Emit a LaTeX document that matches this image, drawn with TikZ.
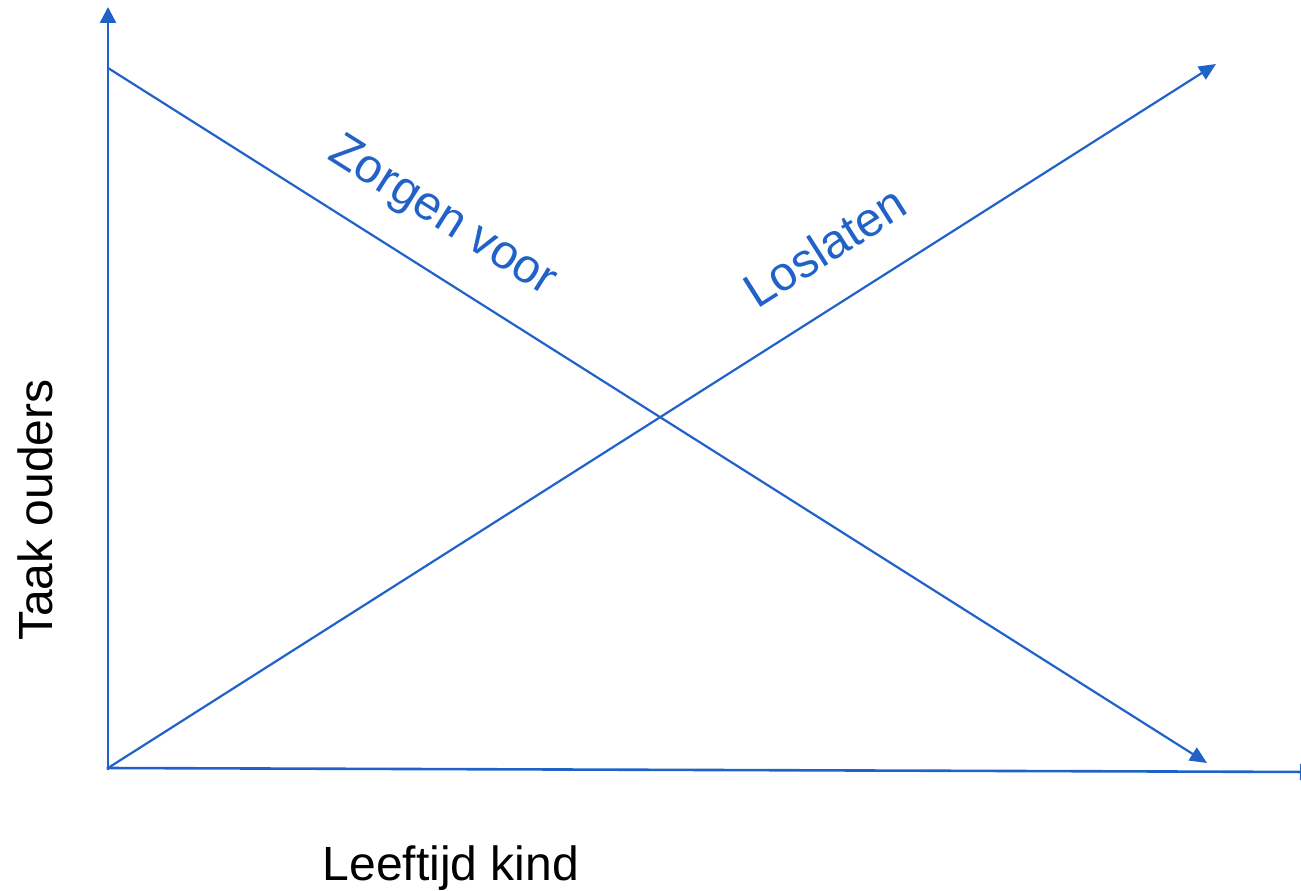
\documentclass[tikz,border=0pt]{standalone}
\usepackage{fontspec}
\setmainfont{Liberation Sans}
\usetikzlibrary{arrows.meta}
\definecolor{lineblue}{RGB}{32,98,200}
\tikzset{
  axisline/.style={draw=lineblue, line width=2.6pt, -{Triangle[length=16pt,width=16pt]}},
  diagline/.style={draw=lineblue, line width=2.2pt, -{Triangle[length=17pt,width=15pt]}},
  bluelabel/.style={text=lineblue, font=\fontsize{48}{57}\selectfont, inner sep=0pt},
  blacklabel/.style={text=black, font=\fontsize{48}{57}\selectfont, inner sep=0pt}
}
\begin{document}
\begin{tikzpicture}[x=1pt,y=-1pt]
\useasboundingbox (0,0) rectangle (1301,891);
\coordinate (origin) at (108,768);
\coordinate (ytop) at (108,7);
\coordinate (xend) at (1316,772);
\coordinate (zstart) at (108,68);
\coordinate (zend) at (1207,763);
\coordinate (lend) at (1216,64);
\draw[axisline] ([yshift=-2pt]origin) -- (ytop);
\draw[axisline] ([xshift=-1.3pt]origin) -- (xend);
\draw[diagline] (zstart) -- (zend);
\draw[diagline] (origin) -- (lend);
\node[bluelabel, anchor=base west, rotate=-32.3] (zorgen) at (326,158) {Zorgen voor};
\node[bluelabel, anchor=base west, rotate=32.4] (los) at (757,310) {Loslaten};
\node[blacklabel, anchor=base, rotate=90] (taak) at (52,510) {Taak ouders};
\node[blacklabel, anchor=base, xshift=0pt] (leeftijd) at (451,880) {Leeftijd kind};
\end{tikzpicture}
\end{document}
